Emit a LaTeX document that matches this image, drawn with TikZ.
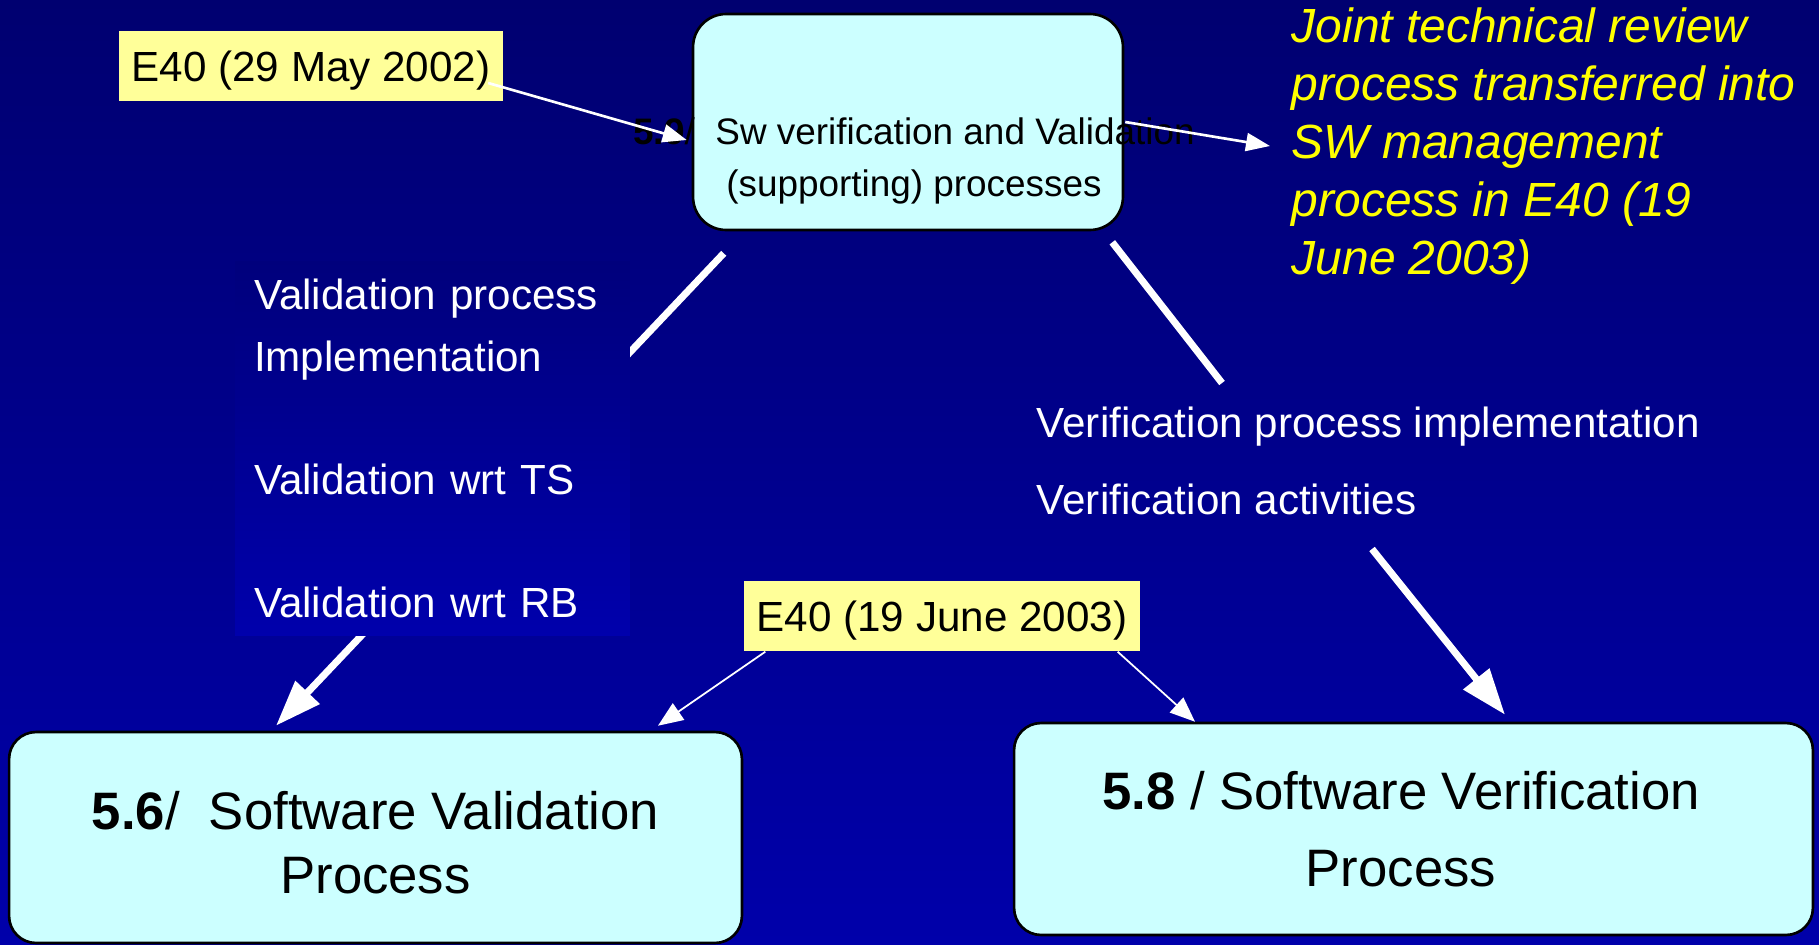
\documentclass[tikz,border=0pt]{standalone}
\usepackage{xcolor}
\usepackage{fontspec}
\setmainfont{Liberation Sans}
\usepackage{tikz}
\usetikzlibrary{calc,arrows.meta}

\definecolor{bgtop}{RGB}{0,0,112}
\definecolor{bgbot}{RGB}{0,0,170}
\definecolor{paneltop}{RGB}{0,0,124}
\definecolor{panelbot}{RGB}{0,0,172}
\definecolor{boxcyan}{RGB}{204,255,255}
\definecolor{notey}{RGB}{255,255,153}
\definecolor{penyellow}{RGB}{255,255,0}

\begin{document}
\begin{tikzpicture}[x=0.02cm,y=-0.02cm,line width=0.8pt,
		procbox/.style={draw=black,line width=1.5pt,fill=boxcyan,align=center,text=black,inner sep=0pt},
		datebox/.style={fill=notey,text=black,minimum height=1.4cm,inner sep=0pt,text depth=0pt,font=\fontsize{24}{29}\selectfont},
		thinarr/.style={white,line width=1.5pt,-{Triangle[length=0.48cm,width=0.36cm]}},
		slimarr/.style={white,line width=1pt,-{Triangle[length=0.5cm,width=0.4cm]}},
		thickarr/.style={white,line width=4pt,-{Triangle[length=0.92cm,width=0.64cm]}}]
			\useasboundingbox (0,0) rectangle (1819,944);
			% 背景渐变
			\shade[top color=bgtop,bottom color=bgbot] (0,0) rectangle (1819,944);
			% % % % % % % % % % % % % % %
			%三个过程框
			\node[procbox,minimum width=8.6cm,minimum height=4.32cm,rounded corners=0.66cm] (svv) at (908,122) {};
			\node[procbox,minimum width=14.66cm,minimum height=4.22cm,rounded corners=0.54cm] (val) at (375.5,837.5) {};
			\node[align=center,font=\fontsize{30}{36.4}\selectfont] (valtext) at ($(val.center)+(0,5)$)
				{\textbf{5.6}/\ \ Software Validation\\Process};
			\node[procbox,minimum width=15.98cm,minimum height=4.24cm,rounded corners=0.54cm,
				font=\fontsize{30}{44}\selectfont] (ver) at (1413.5,829) {\textbf{5.8} / Software Verification\hspace*{0.5cm}\\Process\hspace*{0.5cm}};
			%日期标签
			\node[datebox,minimum width=7.7cm] (e40a) at (311,66) {E40 (29 May 2002)};
			\node[datebox,minimum width=7.92cm] (e40b) at (942,616) {E40 (19 June 2003)};
			%粗箭头
			\coordinate (vtop) at (1222,383);
			\coordinate (vbot) at (1372,549);
			\draw[thickarr] ($(svv.south west)+(32,22)$) -- ($(val.north)+(-99.5,-5)$);
			\draw[white,line width=4pt] ($(svv.south east)+(-12,11)$) -- (vtop);
			\draw[thickarr] (vbot) -- ($(ver.north)+(91.5,-7)$);
			%左侧文字块
			\node[top color=paneltop,bottom color=panelbot,text=white,align=left,
				text width=7.14cm,minimum height=7.5cm,inner xsep=0.38cm,inner ysep=0pt,
				font=\fontsize{24}{35}\selectfont] (valpanel) at (432.5,448.5)
				{Validation process\\Implementation\\~\\Validation wrt TS\\~\\Validation wrt RB};
			%右侧文字
			\node[anchor=west,inner sep=0pt,align=left,text=white,
				font=\fontsize{24}{44}\selectfont] (vtext) at (1036,461)
				{Verification process implementation\\Verification activities};
			\node[align=center,font=\fontsize{21}{30}\selectfont] (svvlbl) at (914,161)
				{\textbf{5.9}/\ \ Sw verification and Validation\\(supporting) processes};
			\node[anchor=west,inner xsep=0.42cm,inner ysep=0pt,align=left,text=penyellow,
				font=\fontsize{27.3}{33}\selectfont\itshape] (jtr) at (1270,146)
				{Joint technical review\\process transferred into\\SW management\\process in E40 (19\\June 2003)};
			%细箭头
			\draw[thinarr] ($(e40a.east)+(-16,17)$) -- ($(svv.west)+(-5,18)$);
			\draw[thinarr] ($(svv.east)+(1,0)$) -- (jtr.west);
			\draw[slimarr] ($(e40b.south west)+(22,0)$) -- ($(val.north)+(282.5,-5)$);
			\draw[slimarr] ($(e40b.south east)+(-23,0)$) -- ($(ver.north)+(-218.5,0)$);
		\end{tikzpicture}
\end{document}
